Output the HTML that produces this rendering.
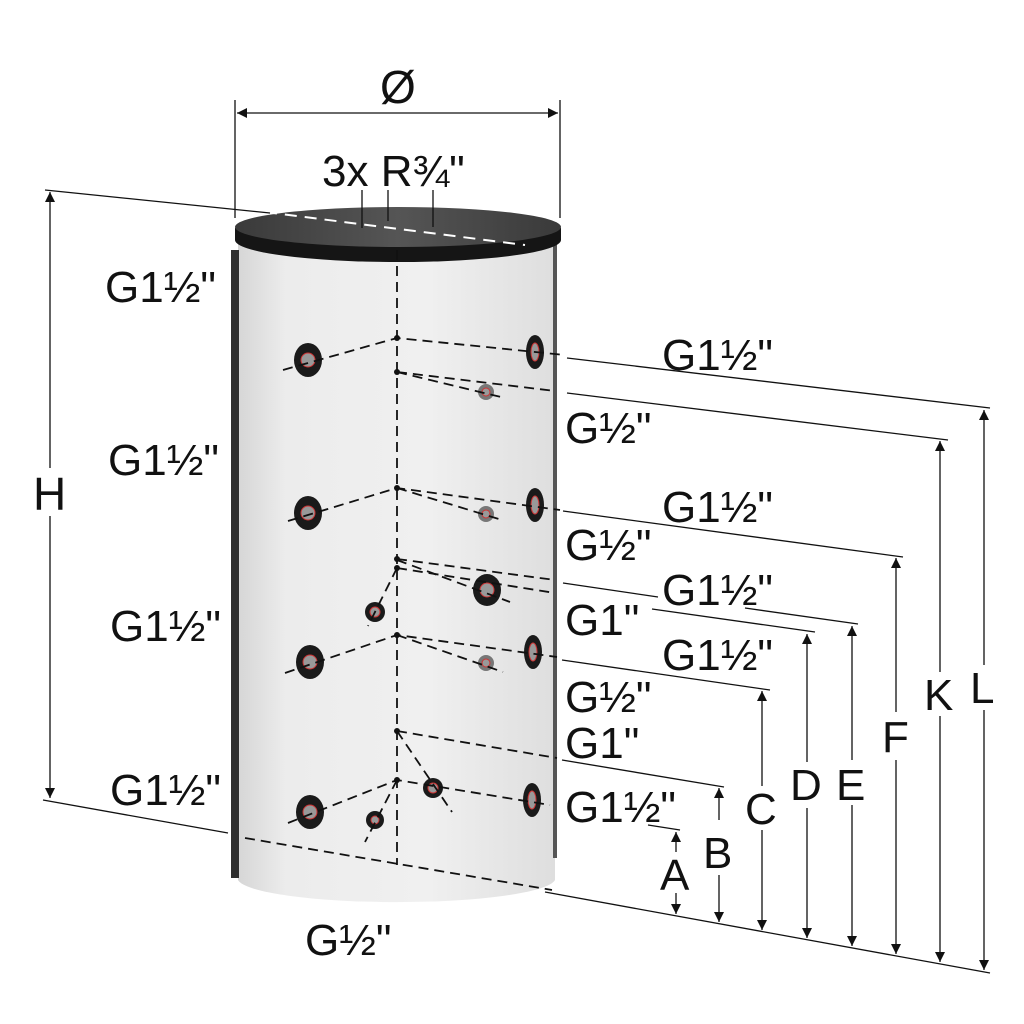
<!DOCTYPE html>
<html><head><meta charset="utf-8"><style>
html,body{margin:0;padding:0;background:#fff;}
svg{display:block;}
text{font-family:"Liberation Sans",Arial,sans-serif;fill:#111;}
</style></head><body>
<svg width="1024" height="1024" viewBox="0 0 1024 1024" xmlns="http://www.w3.org/2000/svg">
<defs>
<linearGradient id="body" x1="0" x2="1" y1="0" y2="0">
<stop offset="0" stop-color="#d6d6d6"/><stop offset="0.15" stop-color="#ececec"/>
<stop offset="0.6" stop-color="#f0f0f0"/><stop offset="1" stop-color="#dedede"/>
</linearGradient>
<linearGradient id="lid" x1="0" x2="1"><stop offset="0" stop-color="#3a3a3a"/><stop offset="0.5" stop-color="#555"/><stop offset="1" stop-color="#3a3a3a"/></linearGradient>
<marker id="ar" viewBox="0 0 10 10" refX="10" refY="5" markerWidth="18" markerHeight="10" markerUnits="userSpaceOnUse" orient="auto-start-reverse"><path d="M0,0 L10,5 L0,10 z" fill="#111"/></marker>
</defs>

<path d="M238,232 L238,880 A159,24 0 0 0 555,880 L555,232 Z" fill="url(#body)"/>
<rect x="231" y="250" width="8" height="628" fill="#2e2e2e"/>
<rect x="553" y="238" width="4" height="620" fill="#555"/>
<path d="M235,228 L235,240 A163,22 0 0 0 561,240 L561,228 Z" fill="#151515"/>
<ellipse cx="398" cy="227" rx="163" ry="20" fill="url(#lid)"/>
<line x1="265" y1="212" x2="525" y2="245" stroke="#fff" stroke-width="2" stroke-dasharray="12,8"/>

<g fill="#1a1a1a">
<ellipse cx="308" cy="360" rx="14" ry="17"/><ellipse cx="308" cy="513" rx="14" ry="17"/>
<ellipse cx="310" cy="662" rx="14" ry="17"/><ellipse cx="310" cy="812" rx="14" ry="17"/>
<ellipse cx="535" cy="352" rx="9" ry="17"/><ellipse cx="535" cy="505" rx="9" ry="17"/>
<ellipse cx="533" cy="652" rx="9" ry="17"/><ellipse cx="532" cy="800" rx="9" ry="17"/>
<ellipse cx="487" cy="590" rx="14" ry="16"/>
<circle cx="375" cy="612" r="10"/><circle cx="433" cy="788" r="10"/><circle cx="375" cy="820" r="9"/>
</g>
<g fill="#777"><circle cx="486" cy="392" r="8"/><circle cx="486" cy="514" r="8"/><circle cx="486" cy="663" r="8"/></g>
<g fill="#999" stroke="#c33" stroke-width="1">
<circle cx="308" cy="360" r="7"/><circle cx="308" cy="513" r="7"/><circle cx="310" cy="662" r="7"/><circle cx="310" cy="812" r="7"/>
<ellipse cx="535" cy="352" rx="4" ry="9"/><ellipse cx="535" cy="505" rx="4" ry="9"/><ellipse cx="533" cy="652" rx="4" ry="9"/><ellipse cx="532" cy="800" rx="4" ry="9"/>
<circle cx="487" cy="590" r="7"/><circle cx="375" cy="612" r="5"/><circle cx="433" cy="788" r="5"/><circle cx="375" cy="820" r="4"/>
<circle cx="486" cy="392" r="4"/><circle cx="486" cy="514" r="4"/><circle cx="486" cy="663" r="4"/>
</g>

<g stroke="#111" stroke-width="1.8" fill="none" stroke-dasharray="10,6">
<line x1="397" y1="250" x2="397" y2="865"/>
<polyline points="283,370 397,338 565,355"/>
<line x1="397" y1="372" x2="555" y2="391"/><line x1="397" y1="372" x2="505" y2="398"/>
<polyline points="288,521 397,488 560,510"/><line x1="397" y1="488" x2="502" y2="520"/>
<line x1="397" y1="559" x2="555" y2="580"/><line x1="397" y1="568" x2="555" y2="593"/>
<line x1="397" y1="560" x2="510" y2="602"/><line x1="397" y1="568" x2="368" y2="626"/>
<polyline points="285,673 397,635 557,657"/><line x1="397" y1="635" x2="503" y2="672"/>
<line x1="397" y1="731" x2="557" y2="758"/><line x1="397" y1="731" x2="452" y2="812"/>
<polyline points="288,823 397,780 550,805"/><line x1="397" y1="780" x2="365" y2="842"/>
<line x1="245" y1="838" x2="552" y2="890"/>
</g>
<g fill="#111">
<circle cx="397" cy="338" r="3"/><circle cx="397" cy="372" r="3"/><circle cx="397" cy="488" r="3"/>
<circle cx="397" cy="559" r="3"/><circle cx="397" cy="568" r="3"/><circle cx="397" cy="635" r="3"/>
<circle cx="397" cy="731" r="3"/><circle cx="397" cy="780" r="3"/>
</g>

<g stroke="#111" stroke-width="1.3" fill="none">
<line x1="235" y1="100" x2="235" y2="218"/><line x1="560" y1="100" x2="560" y2="218"/>
<line x1="237" y1="113" x2="558" y2="113" marker-start="url(#ar)" marker-end="url(#ar)"/>
<line x1="362" y1="190" x2="362" y2="228"/><line x1="388" y1="190" x2="388" y2="221"/><line x1="433" y1="190" x2="433" y2="227"/>
<line x1="45" y1="190" x2="270" y2="213"/><line x1="43" y1="800" x2="228" y2="833"/>
<line x1="50" y1="192" x2="50" y2="468" marker-start="url(#ar)"/><line x1="50" y1="516" x2="50" y2="798" marker-end="url(#ar)"/>
<line x1="545" y1="892" x2="990" y2="973"/>
<line x1="567" y1="358" x2="990" y2="408"/>
<line x1="567" y1="393" x2="948" y2="440"/>
<line x1="563" y1="511" x2="903" y2="557"/>
<line x1="563" y1="583" x2="658" y2="597"/><line x1="745" y1="608" x2="858" y2="624"/>
<line x1="652" y1="609" x2="815" y2="632"/>
<line x1="562" y1="660" x2="770" y2="690"/>
<line x1="562" y1="760" x2="724" y2="787"/>
<line x1="648" y1="825" x2="680" y2="830"/>
<line x1="676" y1="832" x2="676" y2="852" marker-start="url(#ar)"/><line x1="676" y1="893" x2="676" y2="914" marker-end="url(#ar)"/>
<line x1="719" y1="788" x2="719" y2="820" marker-start="url(#ar)"/><line x1="719" y1="875" x2="719" y2="922" marker-end="url(#ar)"/>
<line x1="762" y1="691" x2="762" y2="786" marker-start="url(#ar)"/><line x1="762" y1="830" x2="762" y2="930" marker-end="url(#ar)"/>
<line x1="807" y1="634" x2="807" y2="762" marker-start="url(#ar)"/><line x1="807" y1="808" x2="807" y2="938" marker-end="url(#ar)"/>
<line x1="852" y1="626" x2="852" y2="760" marker-start="url(#ar)"/><line x1="852" y1="805" x2="852" y2="946" marker-end="url(#ar)"/>
<line x1="896" y1="558" x2="896" y2="712" marker-start="url(#ar)"/><line x1="896" y1="760" x2="896" y2="954" marker-end="url(#ar)"/>
<line x1="940" y1="441" x2="940" y2="672" marker-start="url(#ar)"/><line x1="940" y1="716" x2="940" y2="962" marker-end="url(#ar)"/>
<line x1="984" y1="410" x2="984" y2="665" marker-start="url(#ar)"/><line x1="984" y1="710" x2="984" y2="970" marker-end="url(#ar)"/>
</g>

<g font-size="44">
<text x="380" y="103" font-size="46">Ø</text>
<text x="322" y="186">3x R¾"</text>
<text x="33" y="510" font-size="46">H</text>
<text x="105" y="302">G1½"</text>
<text x="108" y="475">G1½"</text>
<text x="110" y="641">G1½"</text>
<text x="110" y="805">G1½"</text>
<text x="662" y="370">G1½"</text>
<text x="565" y="443">G½"</text>
<text x="662" y="522">G1½"</text>
<text x="565" y="560">G½"</text>
<text x="662" y="605">G1½"</text>
<text x="565" y="635">G1"</text>
<text x="662" y="670">G1½"</text>
<text x="565" y="712">G½"</text>
<text x="565" y="758">G1"</text>
<text x="565" y="822">G1½"</text>
<text x="305" y="955">G½"</text>
<text x="660" y="890">A</text>
<text x="703" y="868">B</text>
<text x="745" y="824">C</text>
<text x="790" y="800">D</text>
<text x="836" y="800">E</text>
<text x="882" y="752">F</text>
<text x="924" y="710">K</text>
<text x="970" y="703">L</text>
</g>
</svg>
</body></html>
